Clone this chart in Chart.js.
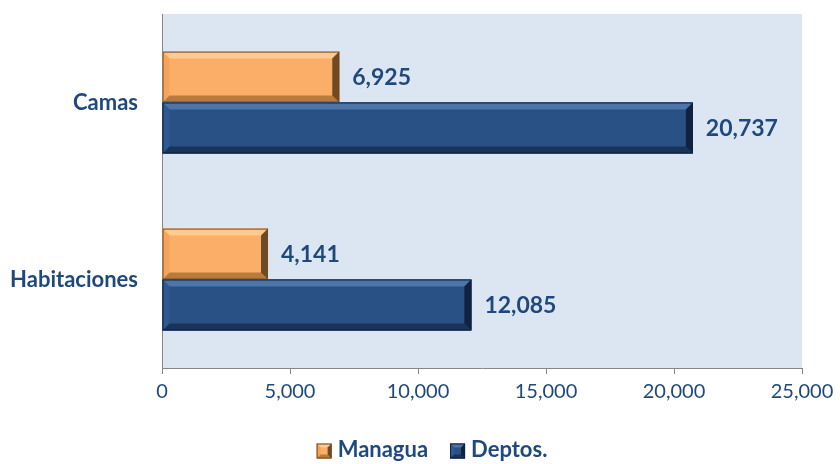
<!DOCTYPE html>
<html>
<head>
<meta charset="utf-8">
<script src="https://cdn.jsdelivr.net/npm/chart.js@4"></script>
<style>
  html, body { margin: 0; padding: 0; background: #ffffff; }
  #wrap { width: 840px; height: 464px; }
</style>
</head>
<body>
<div id="wrap"><canvas id="grafico" width="840" height="464"></canvas></div>
<script>
const categorias = ["Camas", "Habitaciones"];
const managua = [6925, 4141];
const deptos = [20737, 12085];
const ticksX = [0, 5000, 10000, 15000, 20000, 25000];

const azulTexto = "#1F497D";
const fuente = "Lato, 'Open Sans', sans-serif";

// fondo del área de trazado
const fondoPlot = {
    id: "fondoPlot",
    beforeDraw(chart) {
        const { ctx, chartArea: a } = chart;
        ctx.save();
        ctx.fillStyle = "#DCE6F2";
        ctx.fillRect(a.left, a.top, a.right - a.left, a.bottom - a.top);
        ctx.restore();
    },
    afterLayout(chart) {
        // mover la leyenda un poco a la derecha y abajo
        const lg = chart.legend;
        if (!lg) return;
        lg.left += 62;
        lg.top += 7;
        lg.bottom += 7;
    }
};

// dibuja un rectángulo con bisel
function rectBisel(ctx, x0, y0, x1, y1, c, b) {
    ctx.save();
    ctx.fillStyle = c.base;
    ctx.fillRect(x0, y0, x1 - x0, y1 - y0);
    ctx.fillStyle = c.claro;
    ctx.beginPath();
    ctx.moveTo(x0, y0); ctx.lineTo(x1, y0); ctx.lineTo(x1 - b, y0 + b); ctx.lineTo(x0 + b, y0 + b);
    ctx.closePath(); ctx.fill();
    ctx.fillStyle = c.medio;
    ctx.beginPath();
    ctx.moveTo(x0, y0); ctx.lineTo(x0 + b, y0 + b); ctx.lineTo(x0 + b, y1 - b); ctx.lineTo(x0, y1);
    ctx.closePath(); ctx.fill();
    ctx.fillStyle = c.oscuro;
    ctx.beginPath();
    ctx.moveTo(x0, y1); ctx.lineTo(x1, y1); ctx.lineTo(x1 - b, y1 - b); ctx.lineTo(x0 + b, y1 - b);
    ctx.closePath(); ctx.fill();
    ctx.fillStyle = c.borde;
    ctx.beginPath();
    ctx.moveTo(x1, y0); ctx.lineTo(x1, y1); ctx.lineTo(x1 - b, y1 - b); ctx.lineTo(x1 - b, y0 + b);
    ctx.closePath(); ctx.fill();
    ctx.strokeStyle = c.borde;
    ctx.lineWidth = 1;
    ctx.strokeRect(x0 + 0.5, y0 + 0.5, x1 - x0 - 1, y1 - y0 - 1);
    ctx.restore();
}

// barras con efecto de bisel
const bisel = {
    id: "bisel",
    afterDatasetsDraw(chart) {
        const ctx = chart.ctx;
        chart.data.datasets.forEach((ds, i) => {
            chart.getDatasetMeta(i).data.forEach(bar => {
                rectBisel(ctx, bar.base, bar.y - bar.height / 2, bar.x, bar.y + bar.height / 2, ds.colores, 7);
            });
        });
    },
    afterDraw(chart) {
        // cuadros biselados de la leyenda (más grandes que la caja por defecto)
        const lg = chart.legend;
        if (!lg || !lg.legendHitBoxes) return;
        lg.legendHitBoxes.forEach((hb, i) => {
            const c = chart.data.datasets[i].colores;
            const s = 15;
            const y = hb.top + (hb.height - s) / 2 + 1;
            chart.ctx.fillStyle = "#ffffff";
            chart.ctx.fillRect(hb.left - 1, hb.top, 12, hb.height);
            rectBisel(chart.ctx, hb.left, y, hb.left + s, y + s, c, 4);
        });
    }
};

// etiquetas de valor
const etiquetas = {
    id: "etiquetas",
    afterDraw(chart) {
        const ctx = chart.ctx;
        ctx.save();
        ctx.font = "bold 23px " + fuente;
        ctx.fillStyle = azulTexto;
        ctx.textAlign = "left";
        ctx.textBaseline = "middle";
        chart.data.datasets.forEach((ds, i) => {
            chart.getDatasetMeta(i).data.forEach((bar, j) => {
                ctx.fillText(ds.data[j].toLocaleString("en-US"), bar.x + 13, bar.y + 1);
            });
        });
        ctx.restore();
    }
};

Chart.defaults.animation = false;

new Chart(document.getElementById("grafico"), {
    type: "bar",
    data: {
        labels: categorias,
        datasets: [
            {
                label: "Managua",
                data: managua,
                backgroundColor: "#FAAE68",
                colores: { base: "#FAAE68", claro: "#FDCB90", medio: "#F6A45C", oscuro: "#B97A40", borde: "#6E4A26" },
                borderWidth: 0
            },
            {
                label: "Deptos.",
                data: deptos,
                backgroundColor: "#2A5185",
                colores: { base: "#2A5185", claro: "#4C75AA", medio: "#2F5990", oscuro: "#1A3358", borde: "#0F2340" },
                borderWidth: 0
            }
        ]
    },
    options: {
        indexAxis: "y",
        responsive: false,
        maintainAspectRatio: false,
        layout: { padding: { top: 14, right: 38, left: 0, bottom: 0 } },
        datasets: { bar: { categoryPercentage: 0.575, barPercentage: 1 } },
        scales: {
            x: {
                min: 0,
                max: 25000,
                afterBuildTicks: axis => { axis.ticks = ticksX.map(v => ({ value: v })); },
                afterFit: axis => {
                    axis.height = 42;
                    axis.paddingLeft = 0;
                    axis.paddingRight = 0;
                },
                grid: { drawOnChartArea: false, drawTicks: true, tickLength: 6, color: "#868686" },
                border: { color: "#868686", width: 1 },
                ticks: {
                    color: azulTexto,
                    font: { family: fuente, size: 20 },
                    padding: 6,
                    maxRotation: 0,
                    callback: v => v.toLocaleString("en-US")
                }
            },
            y: {
                afterFit: axis => {
                    axis.width = 162;
                    axis.paddingTop = 0;
                    axis.paddingBottom = 0;
                },
                grid: { display: false },
                border: { color: "#868686", width: 1 },
                ticks: {
                    color: azulTexto,
                    font: { family: fuente, size: 22, weight: "bold" },
                    padding: 16
                }
            }
        },
        plugins: {
            legend: {
                position: "bottom",
                labels: {
                    color: azulTexto,
                    font: { family: fuente, size: 22, weight: "bold" },
                    boxWidth: 10,
                    boxHeight: 10,
                    padding: 22,
                    generateLabels: chart => chart.data.datasets.map((ds, i) => ({
                        text: ds.label,
                        fillStyle: "#ffffff",
                        strokeStyle: "#ffffff",
                        lineWidth: 0,
                        fontColor: azulTexto,
                        datasetIndex: i
                    }))
                }
            },
            tooltip: { enabled: false }
        }
    },
    plugins: [fondoPlot, bisel, etiquetas]
});
</script>
</body>
</html>
